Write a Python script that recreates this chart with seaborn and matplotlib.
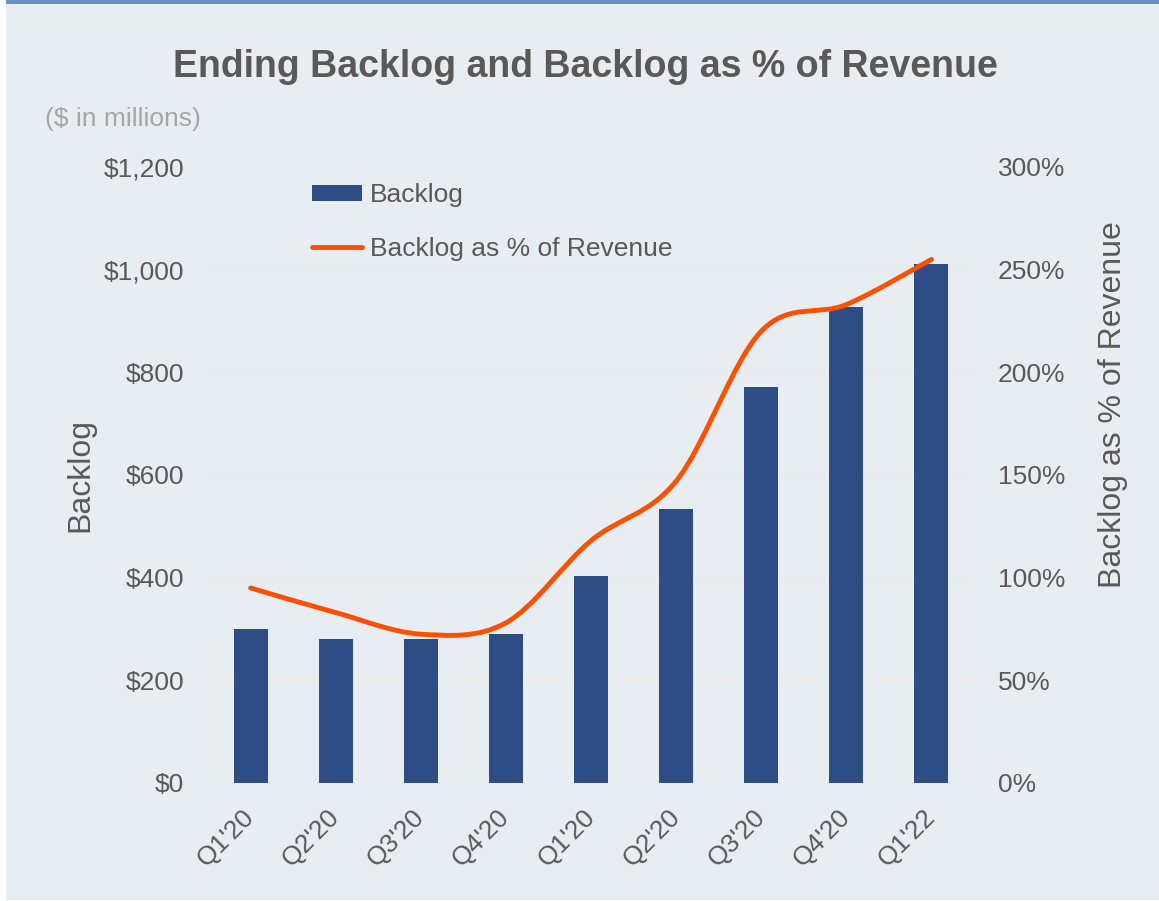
#!/usr/bin/env python3
import numpy as np
import pandas as pd
import matplotlib
matplotlib.use("Agg")
import matplotlib.pyplot as plt
from matplotlib.patches import Rectangle, PathPatch, Patch
from matplotlib.lines import Line2D
from matplotlib.path import Path
from matplotlib.ticker import FuncFormatter, MultipleLocator
import seaborn as sns

# data
quarters = ["Q1'20", "Q2'20", "Q3'20", "Q4'20", "Q1'20", "Q2'20", "Q3'20", "Q4'20", "Q1'22"]
backlog = [300, 280, 281, 290, 404, 534, 771, 927, 1012]
backlog_pct = [95, 83, 72.5, 78, 118, 147, 220, 233, 255]

BAR = "#2E4D85"
LINE = "#FF5000"
TXT = "#595959"
BG = "#E8EDF2"

plt.rcParams["font.family"] = ["Liberation Sans", "DejaVu Sans"]

W, H = 1159, 901


def fx(px):
    return px / W


def fy(py):
    return 1 - py / H


def smooth_path(xs, ys):
    # Excel-style smoothed line: cubic bezier through every point
    pts = np.column_stack([xs, ys]).astype(float)
    n = len(pts)
    verts = [pts[0]]
    codes = [Path.MOVETO]
    for i in range(n - 1):
        p0 = pts[i - 1] if i > 0 else pts[i]
        p1, p2 = pts[i], pts[i + 1]
        p3 = pts[i + 2] if i + 2 < n else pts[i + 1]
        verts += [p1 + (p2 - p0) / 6, p2 - (p3 - p1) / 6, p2]
        codes += [Path.CURVE4] * 3
    return Path(verts, codes)


df = pd.DataFrame({"pos": range(len(quarters)), "quarter": quarters,
                   "backlog": backlog, "pct": backlog_pct})

fig = plt.figure(figsize=(W / 100, H / 100), dpi=100, facecolor="white")
fig.patches.append(Rectangle((fx(6), fy(900)), fx(W - 6), 899 / H, transform=fig.transFigure,
                             facecolor=BG, edgecolor="none", zorder=-10))
fig.patches.append(Rectangle((fx(6), fy(4)), fx(W - 6), 4 / H, transform=fig.transFigure,
                             facecolor="#6A92C0", edgecolor="none", zorder=-9))

ax = fig.add_axes([fx(208), fy(783), fx(766), 616 / H])
ax.set_facecolor("none")
sns.barplot(data=df, x="pos", y="backlog", color=BAR, saturation=1, width=0.4, ax=ax)
ax.set_xlim(-0.5, len(quarters) - 0.5)
ax.set_ylim(0, 1200)
ax.yaxis.set_major_locator(MultipleLocator(200))
ax.yaxis.set_major_formatter(FuncFormatter(lambda v, p: f"${v:,.0f}"))
ax.set_xticks(df["pos"])
ax.set_xticklabels(quarters, rotation=45, ha="right", va="center", rotation_mode="anchor")
ax.yaxis.grid(True, color="#EEEBEB", lw=1.2)
ax.set_axisbelow(True)
ax.tick_params(axis="both", length=0, labelsize=19, labelcolor=TXT)
ax.tick_params(axis="y", pad=17)
ax.tick_params(axis="x", pad=22)
ax.set_xlabel("")
ax.set_ylabel("Backlog", fontsize=23, color=TXT)
ax.yaxis.set_label_coords((95 - 208) / 766, 0.5)
for s in ax.spines.values():
    s.set_visible(False)

ax2 = ax.twinx()
ax2.set_ylim(0, 300)
ax2.yaxis.set_major_locator(MultipleLocator(50))
ax2.yaxis.set_major_formatter(FuncFormatter(lambda v, p: f"{v:.0f}%"))
ax2.add_patch(PathPatch(smooth_path(df["pos"], df["pct"]), fill=False, edgecolor=LINE,
                        lw=3.5, capstyle="round", joinstyle="round", zorder=5))
ax2.tick_params(axis="y", length=0, labelsize=19, labelcolor=TXT, pad=17)
ax2.set_ylabel("Backlog as % of Revenue", fontsize=23, color=TXT)
ax2.yaxis.set_label_coords((1098 - 208) / 766, (783 - 405) / 616)
for s in ax2.spines.values():
    s.set_visible(False)

handles = [Patch(facecolor=BAR, edgecolor="none"),
           Line2D([], [], color=LINE, lw=3.5, solid_capstyle="round")]
fig.legend(handles, ["Backlog", "Backlog as % of Revenue"], loc="upper left",
           bbox_to_anchor=(fx(312), fy(183)), bbox_transform=fig.transFigure,
           frameon=False, fontsize=19, labelcolor=TXT, handlelength=1.9, handleheight=0.55,
           handletextpad=0.3, labelspacing=1.13, borderpad=0, borderaxespad=0)

fig.text(fx(585), fy(67), "Ending Backlog and Backlog as % of Revenue", ha="center", va="center",
         fontsize=27, fontweight="bold", color=TXT)
fig.text(fx(45), fy(119), "($ in millions)", ha="left", va="center", fontsize=19, color="#A6A6A6")

fig.savefig("out.png", dpi=100, facecolor=fig.get_facecolor())
